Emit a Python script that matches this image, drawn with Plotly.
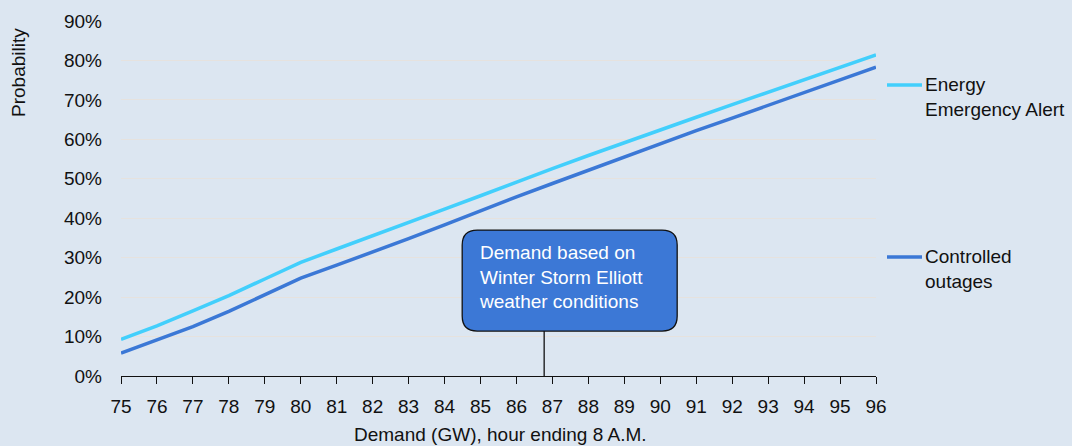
import plotly.graph_objects as go

demand = list(range(75, 97))
eea = [9.3, 12.7, 16.5, 20.4, 24.6, 28.8, 32.2, 35.5, 38.9, 42.3, 45.7, 49.2,
       52.6, 55.9, 59.2, 62.4, 65.6, 68.8, 72.0, 75.2, 78.3, 81.4]
outages = [5.8, 9.1, 12.5, 16.4, 20.6, 24.8, 28.1, 31.4, 34.8, 38.3, 41.9, 45.4,
           48.8, 52.2, 55.6, 59.0, 62.2, 65.4, 68.6, 71.9, 75.1, 78.3]
series_names = ["Energy<br>Emergency Alert", "Controlled<br>outages"]
y_ticks = [0, 10, 20, 30, 40, 50, 60, 70, 80, 90]
y_tick_labels = [f"{v}%" for v in y_ticks]
callout_text = "Demand based on<br>Winter Storm Elliott<br>weather conditions"
callout_x = 86.77
x_title = "Demand (GW), hour ending 8 A.M."
y_title = "Probability"

EEA_COLOR = "#42cffc"
CO_COLOR = "#3b78d6"
BG = "#dce6f1"
TXT = "#111111"
FONT = "Liberation Sans, Arial, sans-serif"
FS = 19

L, R, T, B = 121, 196, 21, 70
PW, PH = 1072 - L - R, 446 - T - B


def px(xp):
    return (xp - L) / PW


def py(yp):
    return 1 - (yp - T) / PH


fig = go.Figure()
fig.add_trace(go.Scatter(x=demand, y=[v / 100 for v in eea], mode="lines",
                         line=dict(color=EEA_COLOR, width=3.5), showlegend=False))
fig.add_trace(go.Scatter(x=demand, y=[v / 100 for v in outages], mode="lines",
                         line=dict(color=CO_COLOR, width=3.5), showlegend=False))

# Legend-like labels at right
for name, color, ypos in [(series_names[0], EEA_COLOR, 85), (series_names[1], CO_COLOR, 257)]:
    fig.add_shape(type="line", xref="paper", yref="paper",
                  x0=px(887), x1=px(922), y0=py(ypos), y1=py(ypos),
                  line=dict(color=color, width=3.5))
    fig.add_annotation(xref="paper", yref="paper", x=px(923), y=py(ypos - 13),
                       text=name, showarrow=False, xanchor="left", yanchor="top",
                       align="left", font=dict(size=FS, color=TXT, family=FONT))

# Callout box (rounded rectangle in data coords)
x0, x1 = 84.49, 90.47
y0, y1 = 0.114, 0.370
rx, ry = 0.42, 0.038
path = (f"M {x0+rx},{y0} L {x1-rx},{y0} Q {x1},{y0} {x1},{y0+ry} "
        f"L {x1},{y1-ry} Q {x1},{y1} {x1-rx},{y1} L {x0+rx},{y1} "
        f"Q {x0},{y1} {x0},{y1-ry} L {x0},{y0+ry} Q {x0},{y0} {x0+rx},{y0} Z")
fig.add_shape(type="line", x0=callout_x, x1=callout_x, y0=0, y1=y0,
              line=dict(color=TXT, width=1.3))
fig.add_shape(type="path", path=path, fillcolor="#3c78d6",
              line=dict(color=TXT, width=1.3))
fig.add_annotation(xref="paper", yref="paper", x=px(477), y=py(240),
                   text=callout_text, showarrow=False, xanchor="left", yanchor="top",
                   align="left", font=dict(size=FS, color="white", family=FONT))

# Axis titles
fig.add_annotation(xref="paper", yref="paper", x=px(18), y=py(73), text=y_title,
                   textangle=-90, showarrow=False, xanchor="center", yanchor="middle",
                   font=dict(size=FS, color=TXT, family=FONT))
fig.add_annotation(xref="paper", yref="paper", x=px(500), y=py(434), text=x_title,
                   showarrow=False, xanchor="center", yanchor="middle",
                   font=dict(size=FS, color=TXT, family=FONT))

fig.update_layout(
    width=1072, height=446,
    paper_bgcolor=BG, plot_bgcolor=BG,
    margin=dict(l=L, r=R, t=T, b=B),
    font=dict(family=FONT, size=FS, color=TXT),
    xaxis=dict(range=[75, 96], tickmode="array", tickvals=demand,
               ticks="outside", ticklen=7, tickwidth=1.3, tickcolor=TXT,
               showline=True, linecolor=TXT, linewidth=1.3,
               showgrid=False, zeroline=False, ticklabelstandoff=6,
               automargin=False),
    yaxis=dict(range=[0, 0.9], tickmode="array", tickvals=[v / 100 for v in y_ticks],
               ticktext=y_tick_labels, showgrid=True, gridcolor="#e6e2de", gridwidth=1,
               zeroline=False, showline=False, ticks="", ticklabelstandoff=18,
               automargin=False),
)

fig.write_html("out.html", config={"displayModeBar": False},
               post_script="document.body.style.margin='0';document.body.style.overflow='hidden';")
